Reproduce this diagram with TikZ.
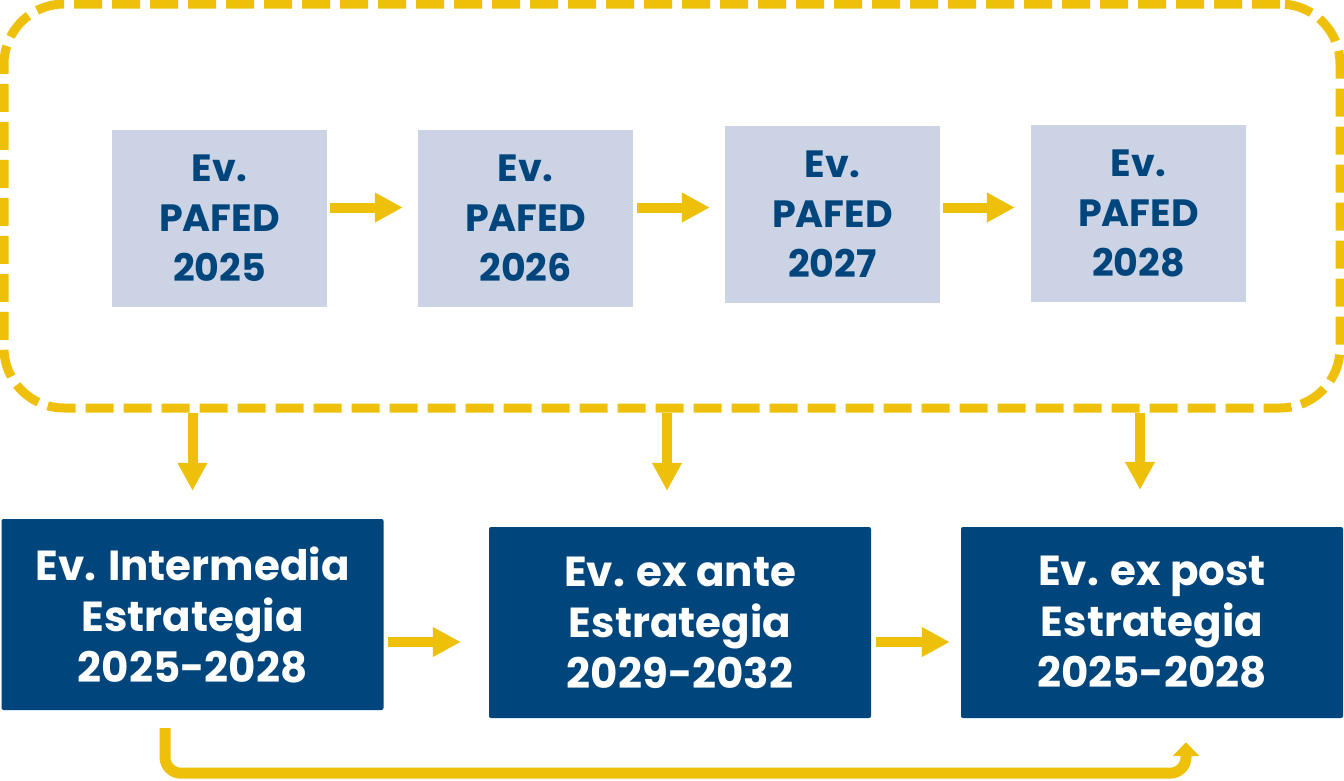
\documentclass[tikz,border=0pt]{standalone}
\usepackage{fontspec}
\setmainfont{Poppins}
\usetikzlibrary{arrows.meta}
\definecolor{amarillo}{RGB}{239,192,10}
\definecolor{azulpafed}{RGB}{0,69,124}
\definecolor{grispafed}{RGB}{203,211,228}

\begin{document}
\begin{tikzpicture}[x=1pt,y=-1pt,
  pafed/.style={fill=grispafed, text=azulpafed, minimum width=215pt, minimum height=177pt,
    inner sep=0pt, align=center, font=\fontsize{38}{50}\selectfont\bfseries},
  estrategia/.style={fill=azulpafed, text=white, rounded corners=2pt, minimum width=382pt,
    minimum height=191pt, inner sep=0pt, align=center, font=\fontsize{42}{51}\selectfont\bfseries},
  flecha/.style={draw=amarillo, line width=10pt, -{Triangle[width=28pt,length=28pt]}},
  lazo/.style={draw=amarillo, line width=11pt, rounded corners=16pt, -{Triangle[width=26pt,length=14pt]}}]
\useasboundingbox (0,0) rectangle (1344,780);
% marco punteado
\node [draw=amarillo, line width=9pt, dash pattern=on 28pt off 10pt, rounded corners=60pt,
  minimum width=1336pt, minimum height=404pt] (marco) at (672,206) {};
% evaluaciones anuales
\node [pafed] (p25) at (219.5,218.5) {Ev.\\PAFED\\2025};
\node [pafed] (p26) at (525.5,218.5) {Ev.\\PAFED\\2026};
\node [pafed] (p27) at (832.5,214) {Ev.\\PAFED\\2027};
\node [pafed] (p28) at (1138.5,213) {Ev.\\PAFED\\2028};
\draw [flecha] ([xshift=3pt,yshift=11pt]p25.east) -- ([xshift=-15pt,yshift=11pt]p26.west);
\draw [flecha] ([xshift=4pt,yshift=11pt]p26.east) -- ([xshift=-15pt,yshift=6.5pt]p27.west);
\draw [flecha] ([xshift=3pt,yshift=6.5pt]p27.east) -- ([xshift=-16pt,yshift=5.5pt]p28.west);
% evaluaciones de la estrategia
\node [estrategia] (ei) at (192.5,614.5) {Ev. Intermedia\\Estrategia\\2025-2028};
\node [estrategia] (ea) at (680,622.5) {Ev. ex ante\\Estrategia\\2029-2032};
\node [estrategia] (ep) at (1152,622.5) {Ev. ex post\\Estrategia\\2025-2028};
\coordinate (bi) at (ei.north);
\coordinate (ba) at ([xshift=-13pt]ea.north);
\coordinate (bp) at ([xshift=-12pt]ep.north);
\draw [flecha] (marco.south -| bi) -- ([yshift=28pt]bi);
\draw [flecha] (marco.south -| ba) -- ([yshift=36pt]ba);
\draw [flecha] (marco.south -| bp) -- ([yshift=37pt]bp);
\draw [flecha] ([xshift=4pt,yshift=-27.5pt]ei.east) -- ([xshift=-28pt,yshift=-19.5pt]ea.west);
\draw [flecha] ([xshift=5pt,yshift=-19.5pt]ea.east) -- ([xshift=-11pt,yshift=-19.5pt]ep.west);
\coordinate (l1) at ([xshift=-27.5pt,yshift=-18pt]ei.south);
\coordinate (l2) at ([xshift=34pt,yshift=-24pt]ep.south);
\draw [lazo] (l1) -- ++(0,45) -| (l2);
\end{tikzpicture}
\end{document}
